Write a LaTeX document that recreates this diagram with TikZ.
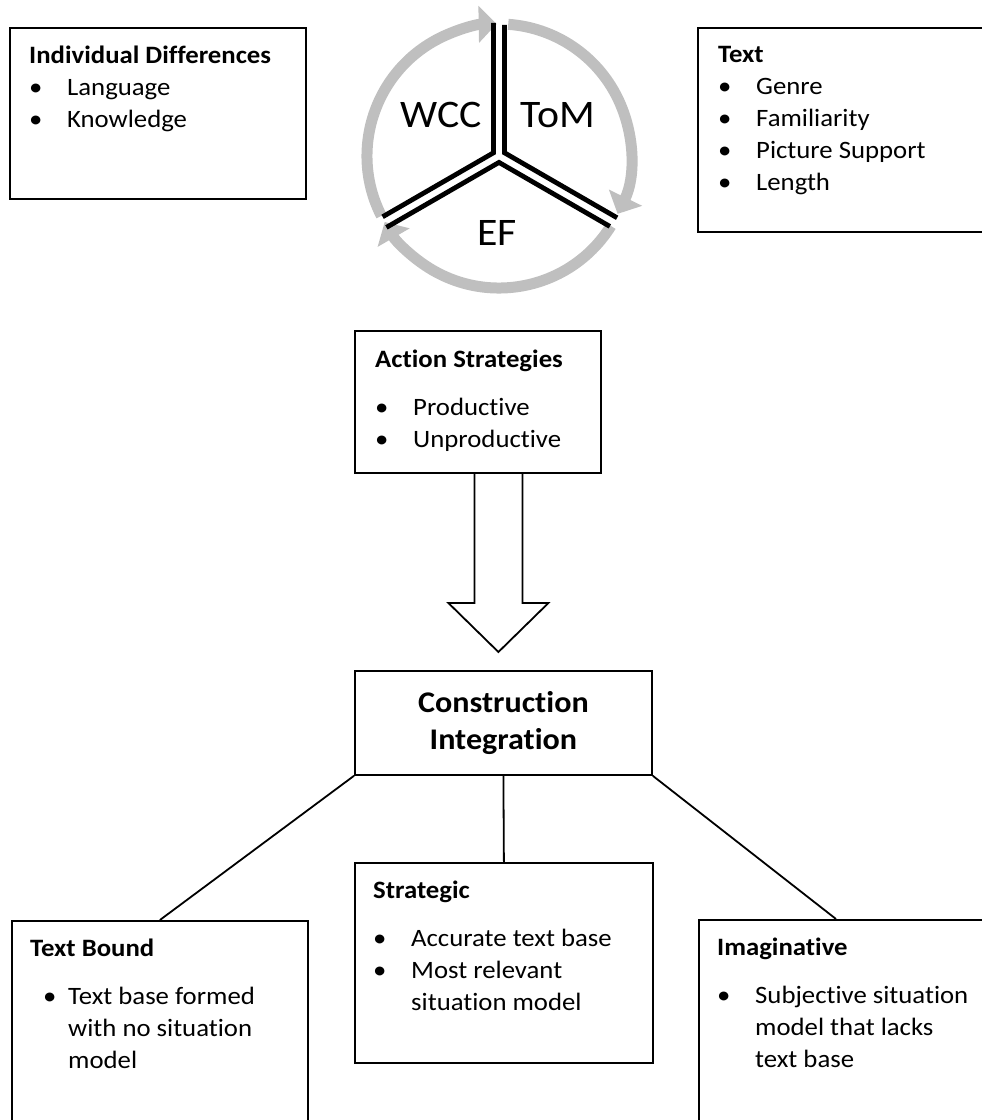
\documentclass[tikz,border=0pt]{standalone}
\usepackage{fontspec}
\setmainfont{Carlito}[FakeStretch=1.07, Ligatures=NoCommon]
\usetikzlibrary{calc, positioning, arrows.meta}
\newcommand{\bul}{\makebox[38pt][l]{\textbullet}}

\begin{document}
\begin{tikzpicture}[x=1pt, y=-1pt,
  box/.style={draw, line width=1.8pt, anchor=north west, inner sep=0pt},
  body/.style={anchor=north west, align=left, inner sep=0pt, font=\fontsize{25}{32}\selectfont},
  link/.style={line width=1.8pt},
  ring/.style={line width=11pt, black!25, -{Triangle[width=36pt,length=18pt]}},
  spoke/.style={line width=4.8pt, line join=miter},
  big/.style={font=\fontsize{39}{40}\selectfont}]
  \useasboundingbox (0,0) rectangle (982,1120);
  \clip (0,0) rectangle (982,1120);

  % factor boxes
  \node[box, minimum width=296, minimum height=171] (indiv) at (9,27) {};
  \node[box, minimum width=320, minimum height=204] (txt) at (697,27) {};
  \node[box, minimum width=246, minimum height=142] (act) at (354,330) {};
  \node[box, minimum width=297, minimum height=104] (ci) at (354,670) {};
  \node[box, minimum width=296, minimum height=240] (tb) at (11,920) {};
  \node[box, minimum width=298, minimum height=200] (strat) at (354,862) {};
  \node[box, minimum width=320, minimum height=240] (imag) at (698,919) {};

  % box contents
  \node[body] (indiv-t) at ($(indiv.north west)+(20,19)$)
    {\textbf{Individual Differences}\\ \bul Language\\ \bul Knowledge};
  \node[body] (txt-t) at ($(txt.north west)+(21,19)$)
    {\textbf{Text}\\ \bul Genre\\ \bul Familiarity\\ \bul Picture Support\\ \bul Length};
  \node[body] (act-t) at ($(act.north west)+(21,20)$)
    {\textbf{Action Strategies}\\[16pt] \bul Productive\\ \bul Unproductive};
  \node[font=\fontsize{30}{37}\selectfont\bfseries, align=center] (ci-t) at (ci.center)
    {Construction\\Integration};
  \node[body] (tb-t) at ($(tb.north west)+(19,19)$)
    {\textbf{Text Bound}\\[16pt] \hspace*{13pt}\makebox[25pt][l]{\textbullet}Text base formed\\
     \hspace*{38pt}with no situation\\ \hspace*{38pt}model};
  \node[body] (strat-t) at ($(strat.north west)+(19,19)$)
    {\textbf{Strategic}\\[16pt] \bul Accurate text base\\ \bul Most relevant\\
     \hspace*{38pt}situation model};
  \node[body] (imag-t) at ($(imag.north west)+(19,19)$)
    {\textbf{Imaginative}\\[16pt] \bul Subjective situation\\ \hspace*{38pt}model that lacks\\
     \hspace*{38pt}text base};

  % hollow arrow
  \coordinate (tip) at ($(ci.north)+(-5,-18)$);
  \draw[link, line join=miter] ($(tip |- act.south)+(-24,0)$) -- ($(tip)+(-24,-49)$)
    -- ($(tip)+(-50,-49)$) -- (tip) -- ($(tip)+(50,-49)$) -- ($(tip)+(24,-49)$)
    -- ($(tip |- act.south)+(24,0)$);

  % branches
  \draw[link] (ci.south west) -- (tb.north);
  \draw[link] (ci.south) -- (strat.north);
  \draw[link] (ci.south east) -- ($(imag.north west)+(138,0)$);

  % cycle
  \coordinate (hub) at (499,156);
  \begin{scope}[shift={(hub)}, yscale=-1]
    \foreach \a/\b in {207/91, 86/-26, -32/-150}
      \draw[ring] (\a:132) arc[start angle=\a, end angle=\b, radius=132];
    \foreach \m in {150, 30, 270}
      \draw[spoke] ($(\m:6.4)+({\m-60}:130)$) -- (\m:6.4) -- ($(\m:6.4)+({\m+60}:128)$);
  \end{scope}
  \node[big] (wcc) at (441,115) {WCC};
  \node[big] (tom) at (558,115) {ToM};
  \node[big] (ef) at (497,233) {EF};
\end{tikzpicture}
\end{document}
